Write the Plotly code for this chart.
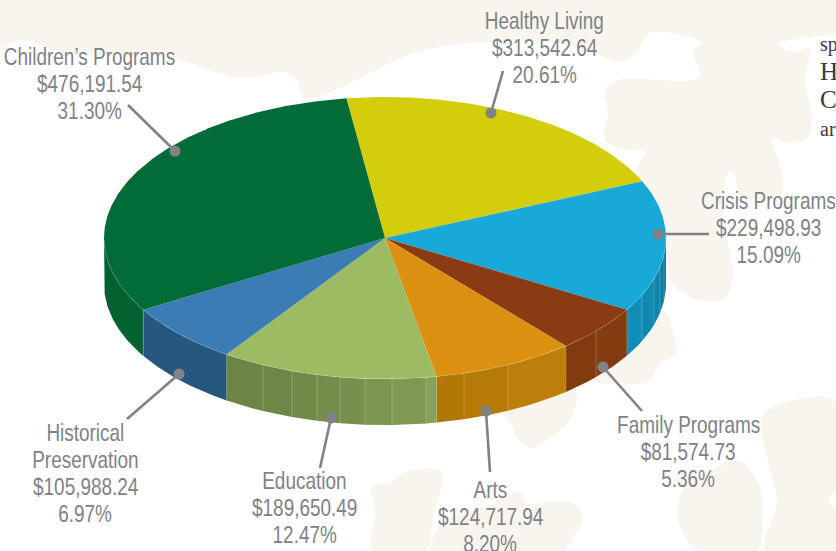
import math
import plotly.graph_objects as go

# ---- data -------------------------------------------------------------
categories = ["Healthy Living", "Crisis Programs", "Family Programs", "Arts",
              "Education", "Historical Preservation", "Children's Programs"]
amounts = [313542.64, 229498.93, 81574.73, 124717.94, 189650.49, 105988.24, 476191.54]
top_colors = ["#d4cd0b", "#18a9d8", "#8b3b14", "#db9012", "#9dbb62", "#3c7cb5", "#016c37"]
side_colors = [
    ["#b0aa08"],
    ["#0f8fb8", "#1089b0", "#0f83a9", "#0e7ea3", "#0d789c"],
    ["#823a0f", "#843b10"],
    ["#b27806", "#b67a07", "#bd7f0c"],
    ["#6c8544", "#6e8746", "#718a48", "#748d4a", "#788f4d", "#7c954f", "#7f9a50", "#85a256"],
    ["#25577f"],
    ["#01622f"],
]
# x positions of the seams on the rim of each slice
side_seams = [[], [642, 654, 660, 664], [596], [464, 508], [263, 292, 317, 340, 365, 392, 426], [], []]

label_lines = [
    ["Healthy Living", "$313,542.64", "20.61%"],
    ["Crisis Programs", "$229,498.93", "15.09%"],
    ["Family Programs", "$81,574.73", "5.36%"],
    ["Arts", "$124,717.94", "8.20%"],
    ["Education", "$189,650.49", "12.47%"],
    ["Historical", "Preservation", "$105,988.24", "6.97%"],
    ["Children\u2019s Programs", "$476,191.54", "31.30%"],
]
label_x = [544, 768, 688, 490, 304, 85, 89]
label_top = [20, 200, 424, 489, 480, 432, 56]
leader_x = [[503, 491], [709, 658], [642, 603], [490, 486], [320, 331], [127, 179], [128, 175]]
leader_y = [[71, 113], [234, 234], [411, 367], [472, 411], [468, 418], [419, 374], [105, 151]]

# decorative background blotches
blotches = [
    [(0, 0), (836, 0), (836, 33), (818, 36), (778, 44), (793, 52), (810, 48), (805, 77), (812, 117),
     (808, 137), (790, 143), (773, 138), (783, 177), (780, 197), (740, 195), (736, 180), (730, 170),
     (725, 183), (723, 220), (730, 253), (733, 277), (725, 298), (697, 300), (673, 283), (660, 220),
     (636, 172), (645, 152), (625, 150), (605, 140), (608, 113), (605, 90), (618, 80), (699, 77),
     (693, 50), (702, 43), (650, 33), (635, 55), (618, 62), (598, 55), (558, 43), (485, 42),
     (418, 52), (305, 98), (297, 80), (287, 72), (240, 78), (167, 57), (67, 53), (20, 40), (0, 47)],
    [(640, 320), (663, 310), (676, 345), (675, 355), (661, 363), (648, 382), (618, 383), (596, 382), (590, 370)],
    [(490, 410), (507, 418), (520, 442), (533, 448), (547, 440), (570, 420), (577, 397), (570, 380)],
    [(762, 417), (783, 403), (836, 402), (836, 490), (829, 500), (836, 510), (836, 551), (766, 551),
     (777, 500), (770, 470)],
    [(677, 513), (687, 483), (713, 470), (737, 460), (758, 483), (762, 517), (757, 551), (698, 551), (680, 527)],
    [(372, 487), (390, 483), (403, 473), (420, 469), (442, 472), (433, 517), (425, 551), (373, 551), (375, 510)],
    [(445, 520), (490, 505), (520, 492), (525, 503), (550, 502), (573, 503), (583, 520), (573, 537),
     (563, 551), (432, 551)],
]
side_texts = [("sp", 818, 44, 20), ("H", 818, 71, 25), ("C", 818, 99, 25), ("ar", 818, 129, 20)]

# ---- geometry of the tilted pie ----------------------------------------
CX, CY, RX, RY, DEPTH = 385, 238, 281, 141, 46
START = -7.9
TEXT = "#808285"
BLOTCH = "#f8f5ee"


def rim(t):
    r = math.radians(t)
    return CX + RX * math.sin(r), CY - RY * math.cos(r)


def arc(t0, t1):
    n = max(2, int(abs(t1 - t0) * 2))
    return [rim(t0 + (t1 - t0) * i / n) for i in range(n + 1)]


def seam_angle(x):
    return 180 - math.degrees(math.asin((x - CX) / RX))


total = sum(amounts)
angles = [START]
for a in amounts:
    angles.append(angles[-1] + a / total * 360)

fig = go.Figure()


def poly(pts, color, shape="linear"):
    xs = [p[0] for p in pts] + [pts[0][0]]
    ys = [p[1] for p in pts] + [pts[0][1]]
    fig.add_trace(go.Scatter(x=xs, y=ys, mode="lines", fill="toself", fillcolor=color,
                             line=dict(width=0, color=color, shape=shape), hoverinfo="skip"))


for b in blotches:
    poly(b, BLOTCH, shape="spline")

# rim of the pie (only its front half can be seen)
for i in range(len(amounts)):
    t0, t1 = max(angles[i], 90), min(angles[i + 1], 270)
    if t1 <= t0:
        continue
    seams = [seam_angle(x) for x in side_seams[i]]
    edges = sorted([t0] + [s for s in seams if t0 < s < t1] + [t1])
    # colours are listed left to right, angles run right to left
    cols = list(reversed(side_colors[i]))
    for j in range(len(edges) - 1):
        top = arc(edges[j], edges[j + 1])
        bottom = [(x, y + DEPTH) for x, y in reversed(top)]
        poly(top + bottom, cols[min(j, len(cols) - 1)])
    for e in edges[1:-1]:
        x, y = rim(e)
        fig.add_trace(go.Scatter(x=[x, x], y=[y, y + DEPTH], mode="lines",
                                 line=dict(width=0.7, color="rgba(255,255,255,0.3)"), hoverinfo="skip"))
    x, y = rim(t1 if t1 < 270 else t0)
    fig.add_trace(go.Scatter(x=[x, x], y=[y, y + DEPTH], mode="lines",
                             line=dict(width=0.7, color="rgba(255,255,255,0.3)"), hoverinfo="skip"))

# top face
for i in range(len(amounts)):
    poly([(CX, CY)] + arc(angles[i], angles[i + 1]), top_colors[i])

front = arc(90, 270)
fig.add_trace(go.Scatter(x=[p[0] for p in front], y=[p[1] for p in front], mode="lines",
                         line=dict(width=0.6, color="rgba(255,255,255,0.25)"), hoverinfo="skip"))

# leaders
for lx, ly in zip(leader_x, leader_y):
    fig.add_trace(go.Scatter(x=lx, y=ly, mode="lines", line=dict(width=2.6, color=TEXT), hoverinfo="skip"))
    fig.add_trace(go.Scatter(x=[lx[1]], y=[ly[1]], mode="markers",
                             marker=dict(size=11, color=TEXT, line=dict(width=0)), hoverinfo="skip"))

annotations = []
for lines, x, top in zip(label_lines, label_x, label_top):
    for k, line in enumerate(lines):
        annotations.append(dict(x=x, y=top + k * 27, text=line, showarrow=False, xref="x", yref="y",
                                xanchor="center", yanchor="middle",
                                font=dict(family="Liberation Sans", size=24, color=TEXT)))
for s, x, y, size in side_texts:
    annotations.append(dict(x=x, y=y, text=s, showarrow=False, xref="x", yref="y", xanchor="left",
                            yanchor="middle", font=dict(family="Liberation Serif", size=size, color="#3a3a3a")))

fig.update_layout(
    width=836, height=551, margin=dict(l=0, r=0, t=0, b=0), showlegend=False,
    paper_bgcolor="white", plot_bgcolor="white", annotations=annotations,
    xaxis=dict(range=[0, 836], visible=False, fixedrange=True),
    yaxis=dict(range=[551, 0], visible=False, fixedrange=True),
)
# no condensed face is installed, so the sans labels are narrowed about their own centre
narrow = """
document.body.style.margin='0';
document.querySelectorAll('text.annotation-text').forEach(function(t){
  if ((t.style.fontFamily||'').indexOf('Sans') < 0) return;
  var b = t.getBBox(), c = b.x + b.width/2;
  t.setAttribute('transform', 'translate('+c+',0) scale(0.79,1) translate('+(-c)+',0)');
});
"""
fig.write_html("out.html", config=dict(displayModeBar=False), post_script=narrow)
